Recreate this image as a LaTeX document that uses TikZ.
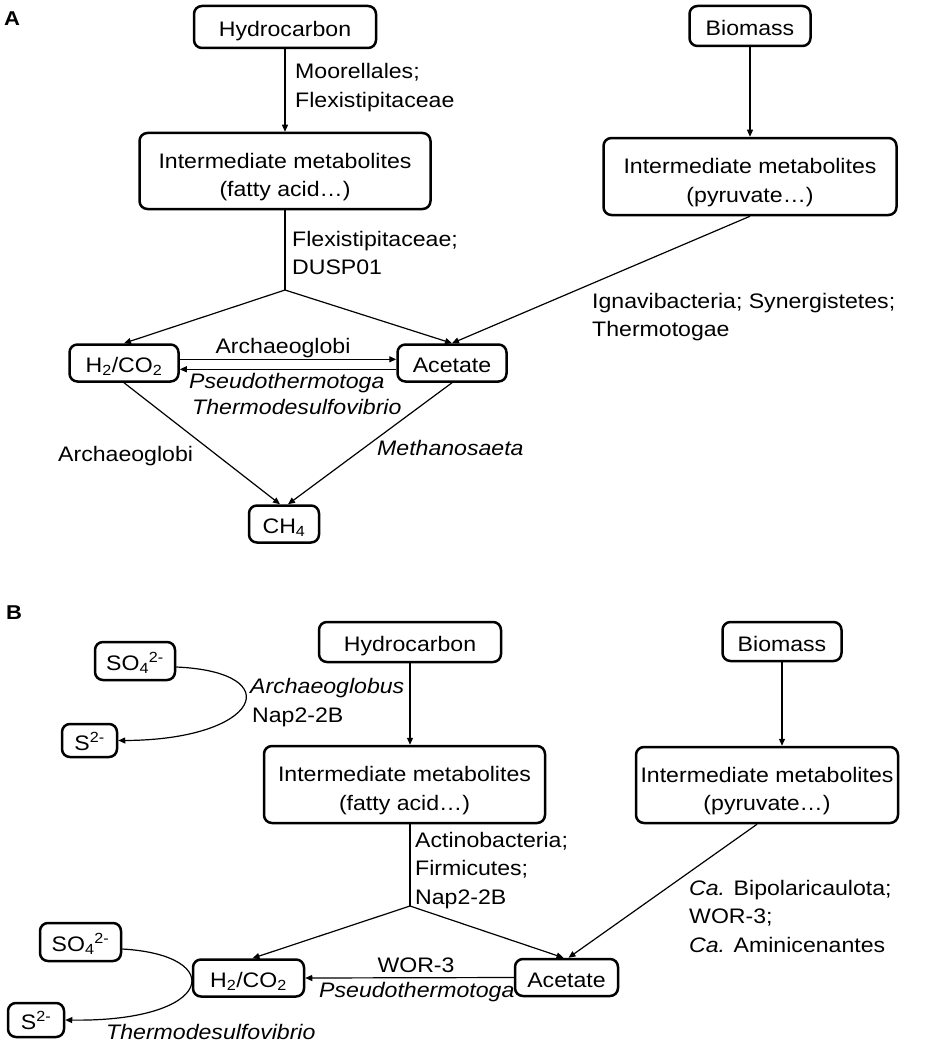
\documentclass[tikz,border=0pt]{standalone}
\usepackage{fontspec}
\setmainfont{Liberation Sans}[FakeStretch=1.1]
\usetikzlibrary{arrows.meta}
\newcommand{\twol}[2]{\begin{tabular}[t]{@{}c@{}}#1\\#2\end{tabular}}
\newcommand{\lft}[1]{\begin{tabular}[t]{@{}l@{}}#1\end{tabular}}
\begin{document}
\begin{tikzpicture}[x=1pt,y=-1pt, font=\fontsize{21}{28.5}\selectfont,
 box/.style={draw, line width=2.5pt, rounded corners=8pt, inner sep=0pt, text height=19pt, text depth=0pt},
 twobox/.style={box, text height=15pt, text depth=21pt},
 lbl/.style={inner sep=0pt, anchor=base west},
 lblc/.style={inner sep=0pt, anchor=base},
 arr/.style={line width=1.2pt, -{Triangle[length=7pt,width=6pt]}},
 ln/.style={line width=1.2pt},
 panel/.style={inner sep=0pt, anchor=base west, font=\fontsize{20}{22}\selectfont\bfseries}
]
\useasboundingbox (0,0) rectangle (935,1046);
% ---------- Panel A ----------
\node[panel] (pA) at (4,26) {A};
\node[box, minimum width=182pt, minimum height=42pt] (hcA) at (285,27) {Hydrocarbon};
\node[box, minimum width=121pt, minimum height=40pt] (bmA) at (750,26) {Biomass};
\node[twobox, minimum width=291pt, minimum height=76pt] (imA) at (285,171) {\twol{Intermediate metabolites}{(fatty acid…)}};
\node[twobox, minimum width=293pt, minimum height=77pt] (ipA) at (750,176.5) {\twol{Intermediate metabolites}{(pyruvate…)}};
\node[box, minimum width=109pt, minimum height=37pt] (h2A) at (124,363) {H\textsubscript{2}/CO\textsubscript{2}};
\node[box, minimum width=109pt, minimum height=37pt] (acA) at (452,363) {Acetate};
\node[box, minimum width=70pt, minimum height=37pt] (ch4) at (284,524) {CH\textsubscript{4}};
\coordinate (jA) at (285,290);

\draw[arr] (hcA.south) -- (imA.north);
\draw[arr] (bmA.south) -- (ipA.north);
\draw[ln] (imA.south) -- (jA);
\draw[arr] (jA) -- (h2A.north);
\draw[arr] (jA) -- (acA.north);
\draw[arr] (ipA.south) -- (acA.north);
\draw[arr] ([yshift=3.7pt]h2A.east) -- ([yshift=3.7pt]acA.west);
\draw[arr] ([yshift=-6.3pt]acA.west) -- ([yshift=-6.3pt]h2A.east);
\draw[arr] (h2A.south) -- ([xshift=-4pt]ch4.north);
\draw[arr] (acA.south) -- ([xshift=4pt]ch4.north);

\node[lbl] (l1) at (295,79) {\lft{Moorellales;\\Flexistipitaceae}};
\node[lbl] (l2) at (292,246) {\lft{Flexistipitaceae;\\DUSP01}};
\node[lbl] (l3) at (592,308) {\lft{Ignavibacteria; Synergistetes;\\Thermotogae}};
\node[lblc] (l4) at (283,353) {Archaeoglobi};
\node[lbl] (l5) at (189,388) {\textit{Pseudothermotoga}};
\node[lbl] (l5b) at (192,414) {\textit{Thermodesulfovibrio}};
\node[lbl] (l6) at (58,461) {Archaeoglobi};
\node[lbl] (l7) at (377,455) {\textit{Methanosaeta}};

% ---------- Panel B ----------
\node[panel] (pB) at (6,619) {B};
\node[box, minimum width=182pt, minimum height=40pt] (hcB) at (410,642) {Hydrocarbon};
\node[box, minimum width=119pt, minimum height=39pt] (bmB) at (782,641.5) {Biomass};
\node[twobox, minimum width=281pt, minimum height=77pt] (imB) at (404.5,784.5) {\twol{Intermediate metabolites}{(fatty acid…)}};
\node[twobox, minimum width=262pt, minimum height=76pt] (ipB) at (767,785) {\twol{Intermediate metabolites}{(pyruvate…)}};
\node[box, minimum width=111pt, minimum height=37pt] (h2B) at (248.5,978) {H\textsubscript{2}/CO\textsubscript{2}};
\node[box, minimum width=103pt, minimum height=37pt] (acB) at (566.5,977.5) {Acetate};
\node[box, minimum width=80pt, minimum height=38pt] (so4a) at (135,661) {SO\textsubscript{4}\textsuperscript{2-}};
\node[box, minimum width=55pt, minimum height=33pt] (s2a) at (89.5,740.5) {S\textsuperscript{2-}};
\node[box, minimum width=81pt, minimum height=38pt] (so4b) at (80.5,942) {SO\textsubscript{4}\textsuperscript{2-}};
\node[box, minimum width=56pt, minimum height=34pt] (s2b) at (36,1020) {S\textsuperscript{2-}};
\coordinate (jB) at (410,906);

\draw[arr] (hcB.south) -- (hcB.south |- imB.north);
\draw[arr] (bmB.south) -- (bmB.south |- ipB.north);
\draw[ln] (imB.south -| jB) -- (jB);
\draw[arr] (jB) -- ([xshift=4pt]h2B.north);
\draw[arr] (jB) -- ([xshift=-3pt]acB.north);
\draw[arr] ([xshift=-10pt]ipB.south) -- ([xshift=2pt]acB.north);
\draw[arr] (acB.west) -- (h2B.east);
\draw[arr] ([yshift=-6pt]so4a.east) .. controls (290,672) and (260,740) .. (s2a.east);
\draw[arr] ([yshift=-7pt]so4b.east) .. controls (228,955) and (215,1022) .. (s2b.east);

\node[lbl] (m1) at (250,693) {\textit{Archaeoglobus}};
\node[lbl] (m1b) at (252,722) {Nap2-2B};
\node[lbl] (m2) at (415,847) {\lft{Actinobacteria;\\Firmicutes;\\Nap2-2B}};
\node[lbl] (m3) at (689,895) {\lft{\textit{Ca.} Bipolaricaulota;\\WOR-3;\\\textit{Ca.} Aminicenantes}};
\node[lblc] (m4) at (416,972) {WOR-3};
\node[lbl] (m5) at (319,997) {\textit{Pseudothermotoga}};
\node[lbl] (m6) at (106,1039) {\textit{Thermodesulfovibrio}};
\end{tikzpicture}
\end{document}
